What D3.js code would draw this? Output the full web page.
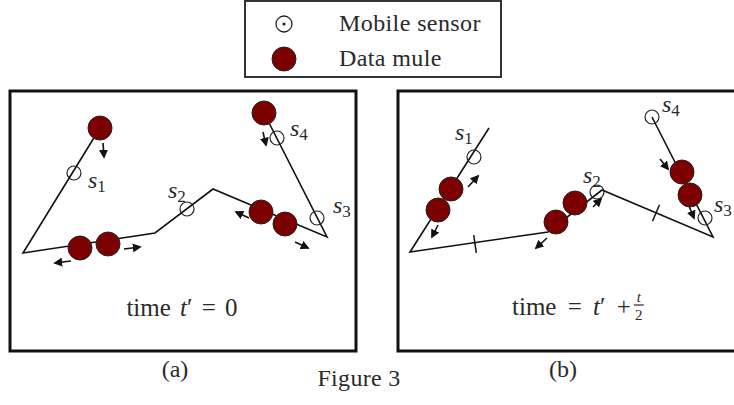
<!DOCTYPE html>
<html><head><meta charset="utf-8">
<script src="https://cdn.jsdelivr.net/npm/d3@7"></script>
<style>
body{margin:0;background:#fff}
svg text{font-family:"Liberation Serif","Times New Roman","DejaVu Serif",serif;}
</style>
</head><body>
<svg id="c" width="734" height="405"></svg>
<script>
// ---------- data ----------
const legendLabels = ["Mobile sensor", "Data mule"];
const panelLabels = ["(a)", "(b)"];
const figureTitle = "Figure 3";
const sensorSubs = ["1", "2", "3", "4"];

// panel (a), in local frame units (0..346 x 0..260)
const pathA = [[90,37],[13,162],[145,142],[203,98],[317,146],[254,22]];
const sensorsA = [[64,82],[177,118],[307,127],[267,47]];
const sensorLabelPosA = [[78,97],[158,107],[323,122],[280,45]];
const mulesA = [[90,37],[70,157],[98,153],[251,121],[275,133],[254,22]];
const arrowsA = [[[93,52],[94,66]],[[61,170],[45,172]],[[114,158],[130,156]],
                 [[239,127],[226,121]],[[285,151],[298,157]],[[253,41],[256,54]]];
const ticksA = [];
const timeTextA = [172, 225];

// panel (b)
const pathB = [[91,37],[12,161],[150,141],[204,99],[315,146],[254,26]];
const sensorsB = [[76,66],[199,101],[307,127],[254,26]];
const sensorLabelPosB = [[57,49],[185,92],[316,121],[264,21]];
const mulesB = [[53,98],[40,119],[158,131],[177,112],[284,81],[292,104]];
const arrowsB = [[[70,96],[80,85]],[[40,134],[34,146]],[[195,116],[203,108]],
                 [[149,147],[138,157]],[[262,68],[270,78]],[[291,115],[296,127]]];
const ticksB = [[[77,153], 1], [[258,122], 3]]; // position, segment index
const timeTextB = [114, 224];

const panels = [
  {ox: 10, oy: 91, path: pathA, sensors: sensorsA, labels: sensorLabelPosA, mules: mulesA, arrows: arrowsA, ticks: ticksA, cap: panelLabels[0]},
  {ox: 398, oy: 91, path: pathB, sensors: sensorsB, labels: sensorLabelPosB, mules: mulesB, arrows: arrowsB, ticks: ticksB, cap: panelLabels[1]}
];

// ---------- drawing ----------
const svg = d3.select("#c");
const TXT = "#2a2a2a";
const MULE = "#7d0000";

const defs = svg.append("defs");
defs.append("marker").attr("id","ah").attr("viewBox","0 0 10 10")
  .attr("refX",8).attr("refY",5).attr("markerWidth",9).attr("markerHeight",9)
  .attr("markerUnits","userSpaceOnUse").attr("orient","auto")
  .append("path").attr("d","M0,0 L10,5 L0,10 Z").attr("fill","#111");

// legend
const lg = svg.append("g");
lg.append("rect").attr("x",245).attr("y",1).attr("width",256).attr("height",76)
  .attr("fill","#fff").attr("stroke","#333").attr("stroke-width",2);
const ly = d3.scalePoint().domain(legendLabels).range([24, 59]);
lg.append("circle").attr("cx",284).attr("cy",ly(legendLabels[0])).attr("r",8)
  .attr("fill","none").attr("stroke","#222").attr("stroke-width",1.3);
lg.append("circle").attr("cx",284).attr("cy",ly(legendLabels[0])).attr("r",1.6).attr("fill","#222");
lg.append("circle").attr("cx",284).attr("cy",ly(legendLabels[1])).attr("r",12)
  .attr("fill",MULE).attr("stroke","#222").attr("stroke-width",1);
lg.selectAll("text.leg").data(legendLabels).join("text").attr("class","leg")
  .attr("x",339).attr("y",d => ly(d) + 7)
  .attr("font-size",24).attr("letter-spacing",0.4)
  .attr("fill",TXT).text(d => d);

panels.forEach((p, pi) => {
  const x = d3.scaleLinear().domain([0,346]).range([p.ox, p.ox + 346]);
  const y = d3.scaleLinear().domain([0,260]).range([p.oy, p.oy + 260]);
  const g = svg.append("g");
  g.append("rect").attr("x",x(0)).attr("y",y(0)).attr("width",x(346)-x(0)).attr("height",y(260)-y(0))
    .attr("fill","none").attr("stroke","#111").attr("stroke-width",3);
  const line = d3.line().x(d => x(d[0])).y(d => y(d[1]));
  g.append("path").attr("d", line(p.path)).attr("fill","none").attr("stroke","#111")
    .attr("stroke-width",1.6).attr("stroke-linejoin","miter");
  p.ticks.forEach(([pos, si]) => {
    const a = p.path[si], b = p.path[si+1];
    const dx = b[0]-a[0], dy = b[1]-a[1], L = Math.hypot(dx,dy);
    const nx = -dy/L*9, ny = dx/L*9;
    g.append("line").attr("x1",x(pos[0]+nx)).attr("y1",y(pos[1]+ny))
      .attr("x2",x(pos[0]-nx)).attr("y2",y(pos[1]-ny))
      .attr("stroke","#111").attr("stroke-width",1.5);
  });
  g.selectAll("circle.s").data(p.sensors).join("circle").attr("class","s")
    .attr("cx",d => x(d[0])).attr("cy",d => y(d[1])).attr("r",7)
    .attr("fill","none").attr("stroke","#222").attr("stroke-width",1.2);
  p.labels.forEach((d, i) => {
    const t = g.append("text").attr("x",x(d[0])).attr("y",y(d[1])).attr("fill",TXT);
    t.append("tspan").attr("font-style","italic").attr("font-size",24).text("s");
    t.append("tspan").attr("font-size",17).attr("dy",4).text(sensorSubs[i]);
  });
  g.selectAll("circle.m").data(p.mules).join("circle").attr("class","m")
    .attr("cx",d => x(d[0])).attr("cy",d => y(d[1])).attr("r",12)
    .attr("fill",MULE).attr("stroke","#222").attr("stroke-width",1);
  g.selectAll("line.a").data(p.arrows).join("line").attr("class","a")
    .attr("x1",d => x(d[0][0])).attr("y1",d => y(d[0][1]))
    .attr("x2",d => x(d[1][0])).attr("y2",d => y(d[1][1]))
    .attr("stroke","#111").attr("stroke-width",1.6).attr("marker-end","url(#ah)");
  svg.append("text").attr("x", x(165)).attr("y", 377).attr("text-anchor","middle")
    .attr("font-size",24).attr("fill",TXT).text(p.cap);

  if (pi === 0) {
    const t = g.append("text").attr("x",x(timeTextA[0])).attr("y",y(timeTextA[1]))
      .attr("text-anchor","middle").attr("font-size",25).attr("word-spacing",3).attr("fill",TXT);
    t.append("tspan").text("time ");
    t.append("tspan").attr("font-style","italic").text("t");
    t.append("tspan").text("\u2032 = 0");
  } else {
    const t = g.append("text").attr("x",x(timeTextB[0])).attr("y",y(timeTextB[1]))
      .attr("font-size",25).attr("word-spacing",5).attr("fill",TXT);
    t.append("tspan").text("time = ");
    t.append("tspan").attr("font-style","italic").text("t");
    t.append("tspan").text("\u2032 + ");
    const w = t.node().getBBox().width;
    const fx = x(timeTextB[0]) + w + 8;
    g.append("text").attr("x",fx).attr("y",y(timeTextB[1]) - 13).attr("text-anchor","middle")
      .attr("font-style","italic").attr("font-size",15).attr("fill",TXT).text("t");
    g.append("line").attr("x1",fx-5).attr("x2",fx+5).attr("y1",y(timeTextB[1]) - 10).attr("y2",y(timeTextB[1]) - 10)
      .attr("stroke",TXT).attr("stroke-width",1.2);
    g.append("text").attr("x",fx).attr("y",y(timeTextB[1]) + 5).attr("text-anchor","middle")
      .attr("font-size",15).attr("fill",TXT).text("2");
  }
});

svg.append("text").attr("x",359).attr("y",386).attr("text-anchor","middle")
  .attr("font-size",24).attr("letter-spacing",0.3).attr("fill",TXT).text(figureTitle);
</script>
</body></html>
